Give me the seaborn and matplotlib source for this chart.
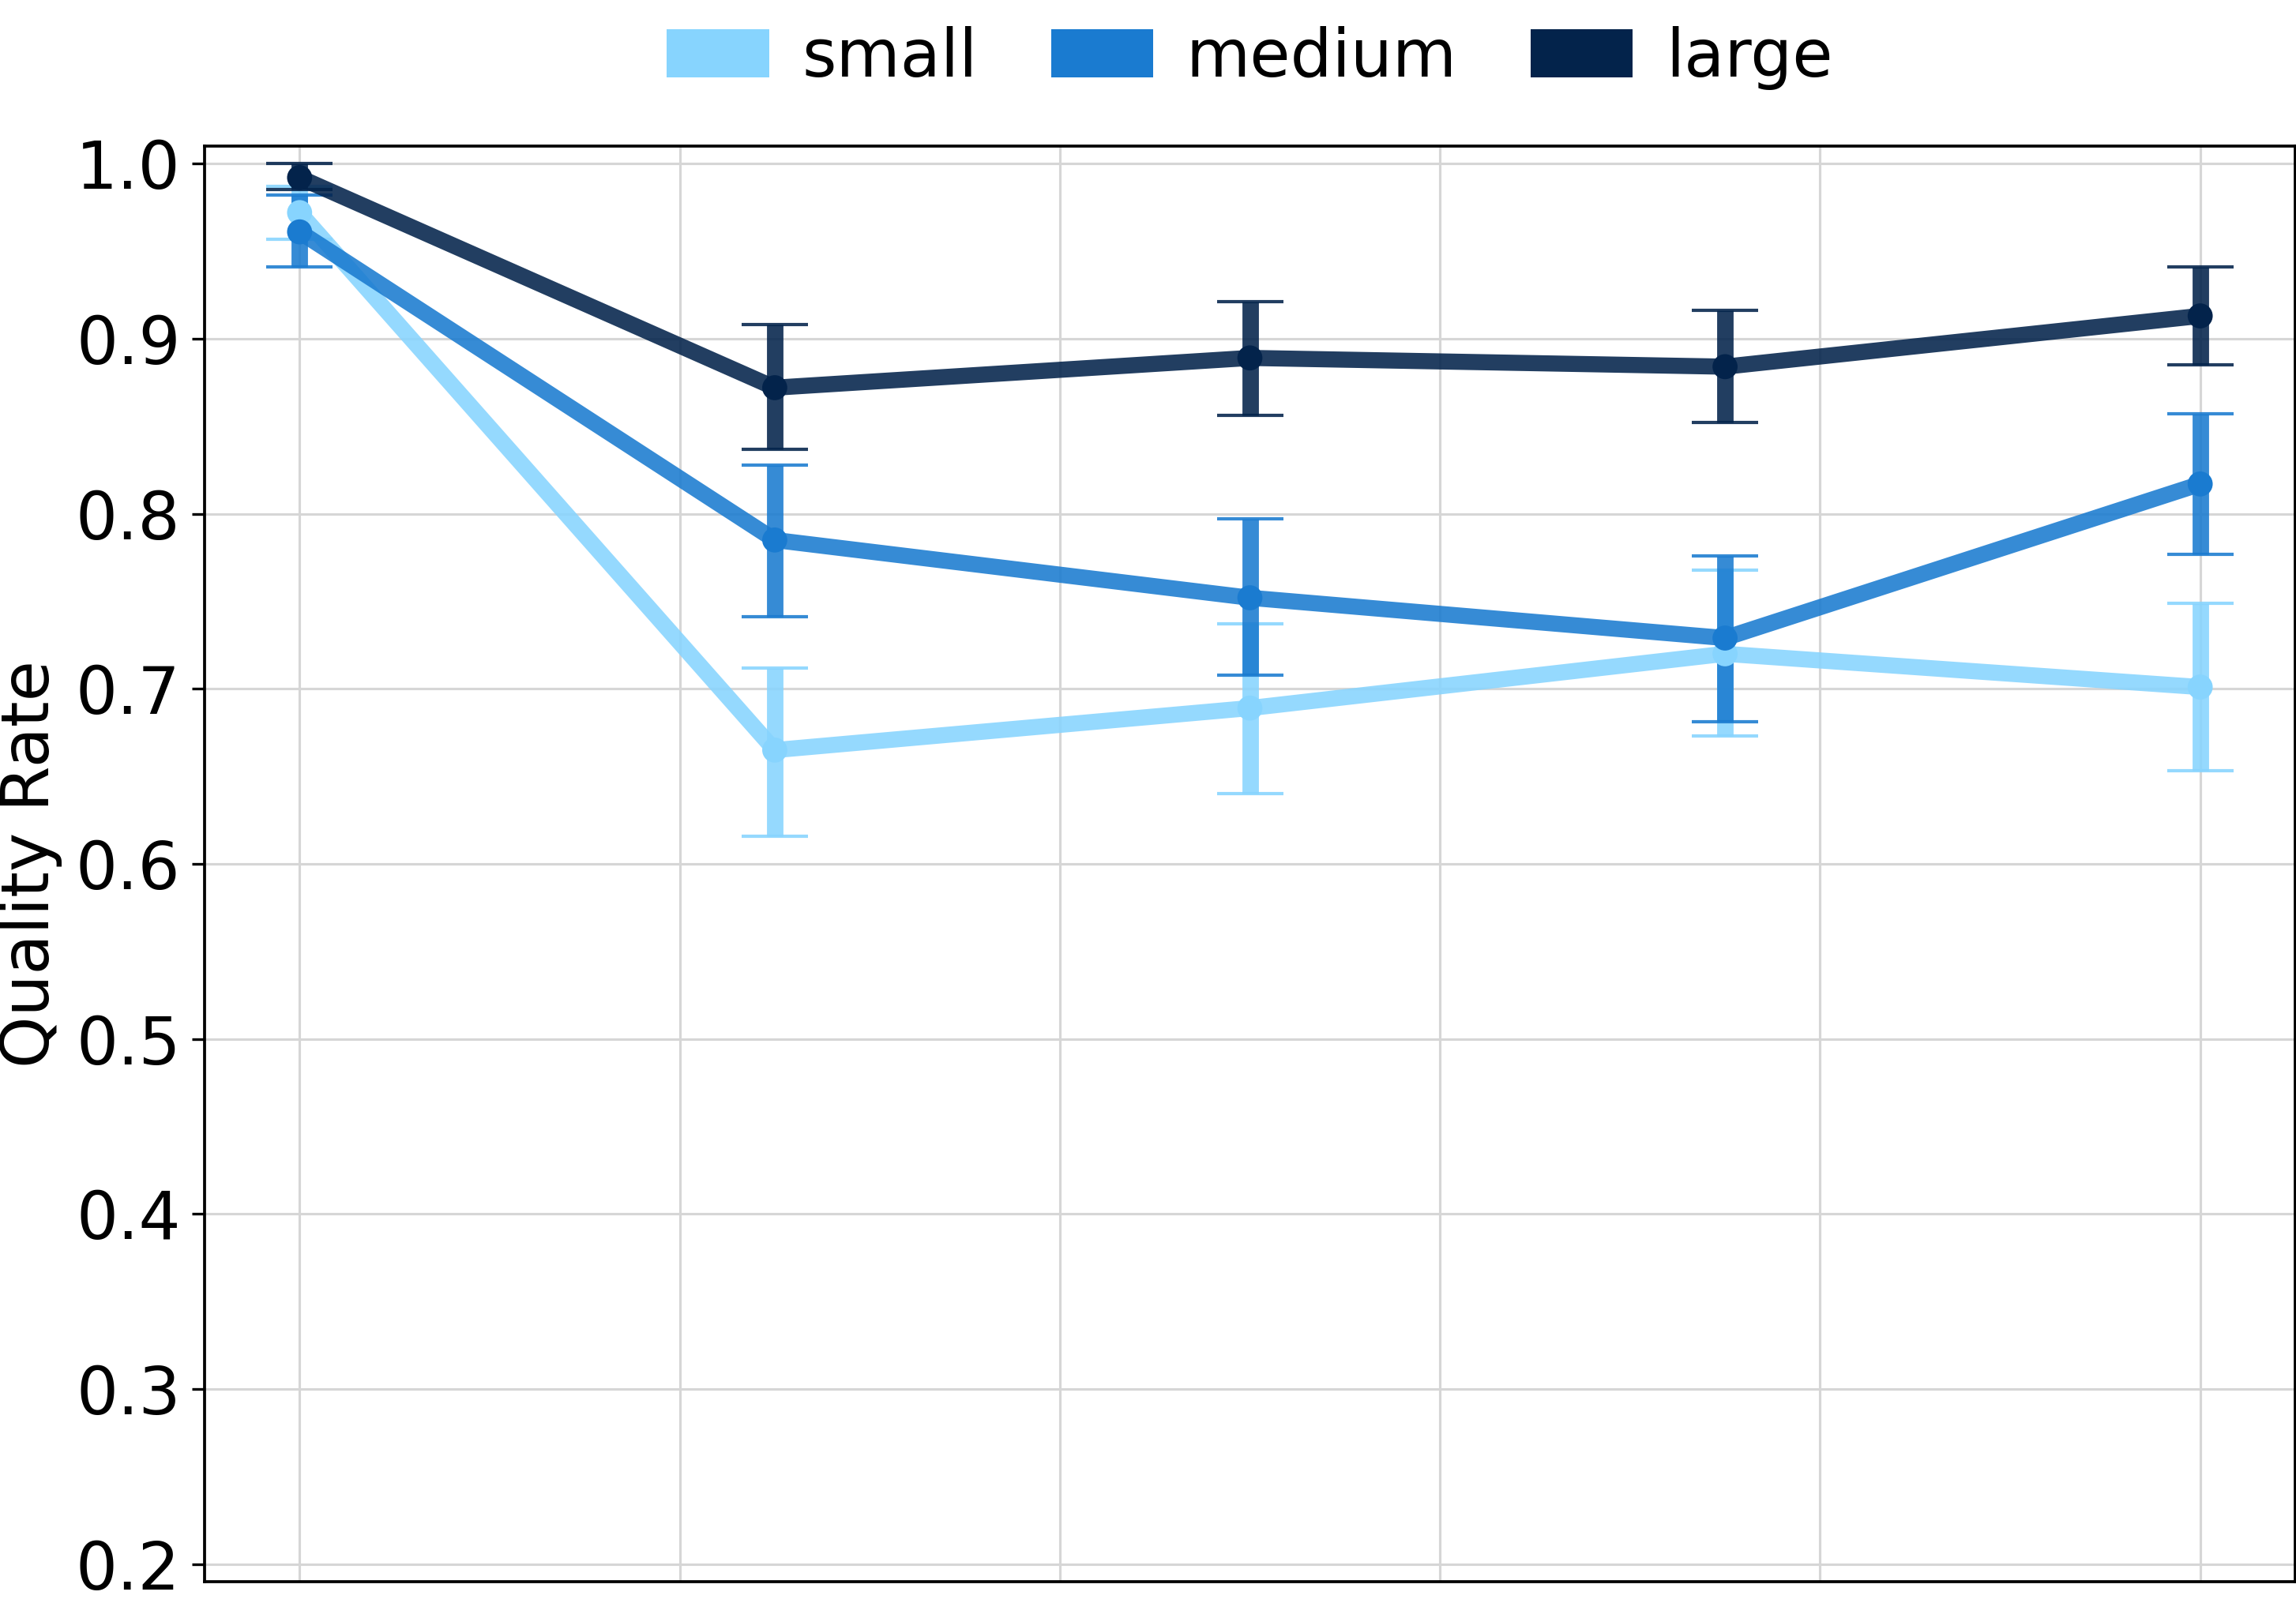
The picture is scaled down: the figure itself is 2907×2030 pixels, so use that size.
import numpy as np
import pandas as pd
import matplotlib
matplotlib.use("Agg")
import matplotlib.pyplot as plt
from matplotlib.patches import Patch
import seaborn as sns

# ---- data ----
sizes = ["small", "medium", "large"]
steps = [0, 1, 2, 3, 4]
small_mean = [0.972, 0.665, 0.689, 0.720, 0.701]
small_lo = [0.957, 0.616, 0.640, 0.673, 0.653]
small_hi = [0.987, 0.712, 0.737, 0.768, 0.749]
medium_mean = [0.961, 0.785, 0.752, 0.729, 0.817]
medium_lo = [0.941, 0.741, 0.708, 0.681, 0.777]
medium_hi = [0.982, 0.828, 0.797, 0.776, 0.857]
large_mean = [0.992, 0.872, 0.889, 0.884, 0.913]
large_lo = [0.985, 0.837, 0.856, 0.852, 0.885]
large_hi = [1.000, 0.908, 0.921, 0.916, 0.941]
colors = ["#87D4FE", "#1A7BD0", "#03234B"]
ytick_vals = [0.2, 0.3, 0.4, 0.5, 0.6, 0.7, 0.8, 0.9, 1.0]

means = {"small": small_mean, "medium": medium_mean, "large": large_mean}
los = {"small": small_lo, "medium": medium_lo, "large": large_lo}
his = {"small": small_hi, "medium": medium_hi, "large": large_hi}

rows = []
for s in sizes:
    for x, m, lo, hi in zip(steps, means[s], los[s], his[s]):
        rows.append({"size": s, "step": x, "rate": m, "lo": lo, "hi": hi})
df = pd.DataFrame(rows)
palette = dict(zip(sizes, colors))

sns.set_style("whitegrid", {
    "axes.edgecolor": "black",
    "grid.color": "#d6d6d6",
    "ytick.left": True,
    "xtick.bottom": False,
    "text.color": "black",
    "axes.labelcolor": "black",
    "xtick.color": "black",
    "ytick.color": "black",
})
plt.rcParams["font.family"] = ["DejaVu Sans"]
plt.rcParams["axes.linewidth"] = 0.9
plt.rcParams["grid.linewidth"] = 0.75

FS = 20
DPI = 300
fig = plt.figure(figsize=(2907 / DPI, 2030 / DPI), dpi=DPI)
ax = fig.add_axes([259 / 2907, 27 / 2030, (2906 - 259) / 2907, (2003 - 185) / 2030])

sns.lineplot(data=df, x="step", y="rate", hue="size", palette=palette,
             hue_order=sizes, linewidth=4.9, alpha=0.88, legend=False,
             ax=ax, zorder=3, errorbar=None)

for s in sizes:
    sub = df[df["size"] == s]
    yerr = np.vstack([sub["rate"] - sub["lo"], sub["hi"] - sub["rate"]])
    ax.errorbar(sub["step"], sub["rate"], yerr=yerr, fmt="none",
                ecolor=palette[s], elinewidth=5, capsize=10, capthick=1.0,
                alpha=0.88, zorder=2)

sns.scatterplot(data=df, x="step", y="rate", hue="size", palette=palette,
                hue_order=sizes, s=58, edgecolor="none", legend=False,
                ax=ax, zorder=5)

ax.set_xlim(-0.2, 4.2)
ax.set_ylim(0.19, 1.01)
ax.set_xticks(np.linspace(0, 4, 6))
ax.set_xticklabels([])
ax.set_yticks(ytick_vals)
ax.set_yticklabels([f"{v:.1f}" for v in ytick_vals])
ax.tick_params(axis="y", labelsize=FS, length=3.8, width=0.8, color="black",
               labelcolor="black")
ax.tick_params(axis="x", length=0)
ax.set_xlabel("")
ax.set_ylabel("Quality Rate", fontsize=FS, color="black")
for sp in ax.spines.values():
    sp.set_color("black")
    sp.set_visible(True)

handles = [Patch(facecolor=c, edgecolor="none", label=s) for s, c in zip(sizes, colors)]
fig.legend(handles=handles, loc="center", bbox_to_anchor=(0.5444, 1 - 73 / 2030),
           ncol=3, frameon=False, fontsize=FS, handlelength=1.55,
           handleheight=0.76, handletextpad=0.5, columnspacing=1.12,
           labelcolor="black")

fig.savefig("out.png", dpi=DPI)
